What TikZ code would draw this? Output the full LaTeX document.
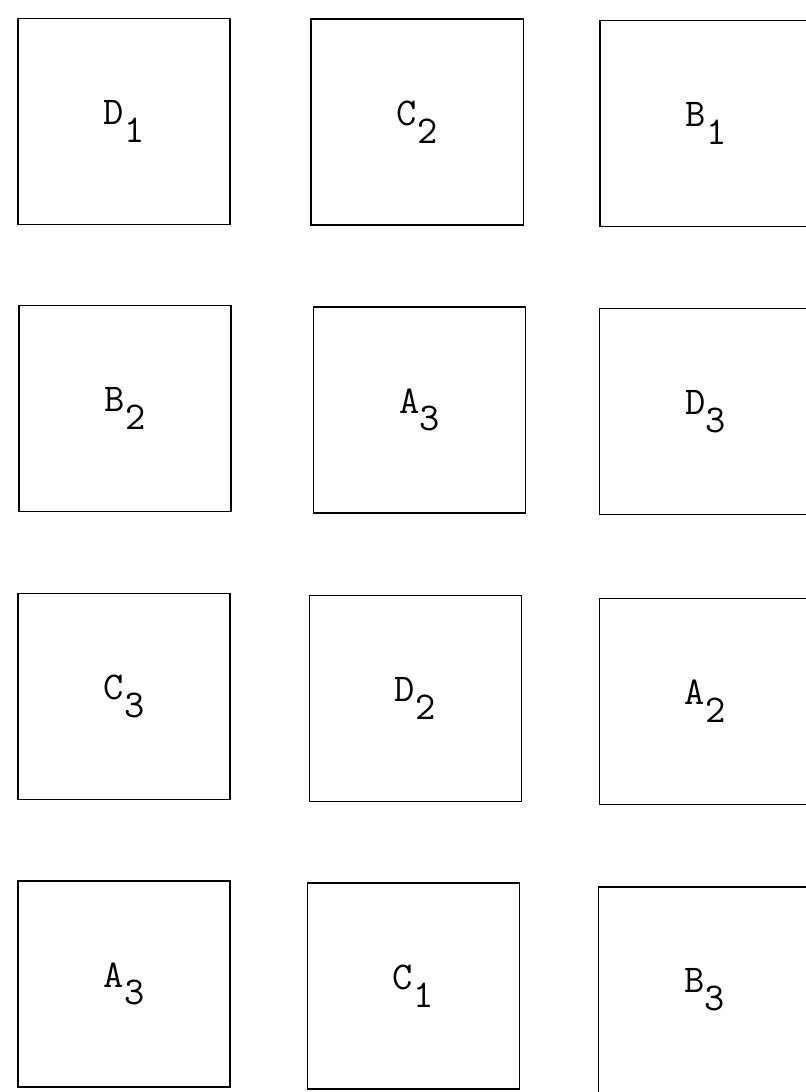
\documentclass[tikz,border=0pt]{standalone}
\usetikzlibrary{positioning}
\newcommand{\plotlab}[2]{#1\raisebox{-0.45em}{#2}}
\tikzset{
  every picture/.style={line width=1pt},
  plot/.style={draw=black, minimum width=5.3cm, minimum height=5.15cm, inner sep=0pt,
    font=\ttfamily\fontsize{28}{32}\selectfont},
}
\begin{document}
\begin{tikzpicture}
  \useasboundingbox (0,0) rectangle (20.15,-27.3);
  % the twelve plots, row by row
  \foreach \n/\x/\y/\l/\s in {11/3.10/-3.03/D/1, 12/10.43/-3.05/C/2, 13/17.65/-3.08/B/1,
      21/3.13/-10.21/B/2, 22/10.49/-10.25/A/3, 23/17.64/-10.29/D/3,
      31/3.10/-17.41/C/3, 32/10.38/-17.46/D/2, 33/17.63/-17.53/A/2,
      41/3.10/-24.60/A/3, 42/10.33/-24.65/C/1, 43/17.61/-24.75/B/3}
    \node[plot] (b\n) at (\x,\y) {\plotlab{\l}{\s}};
\end{tikzpicture}
\end{document}
